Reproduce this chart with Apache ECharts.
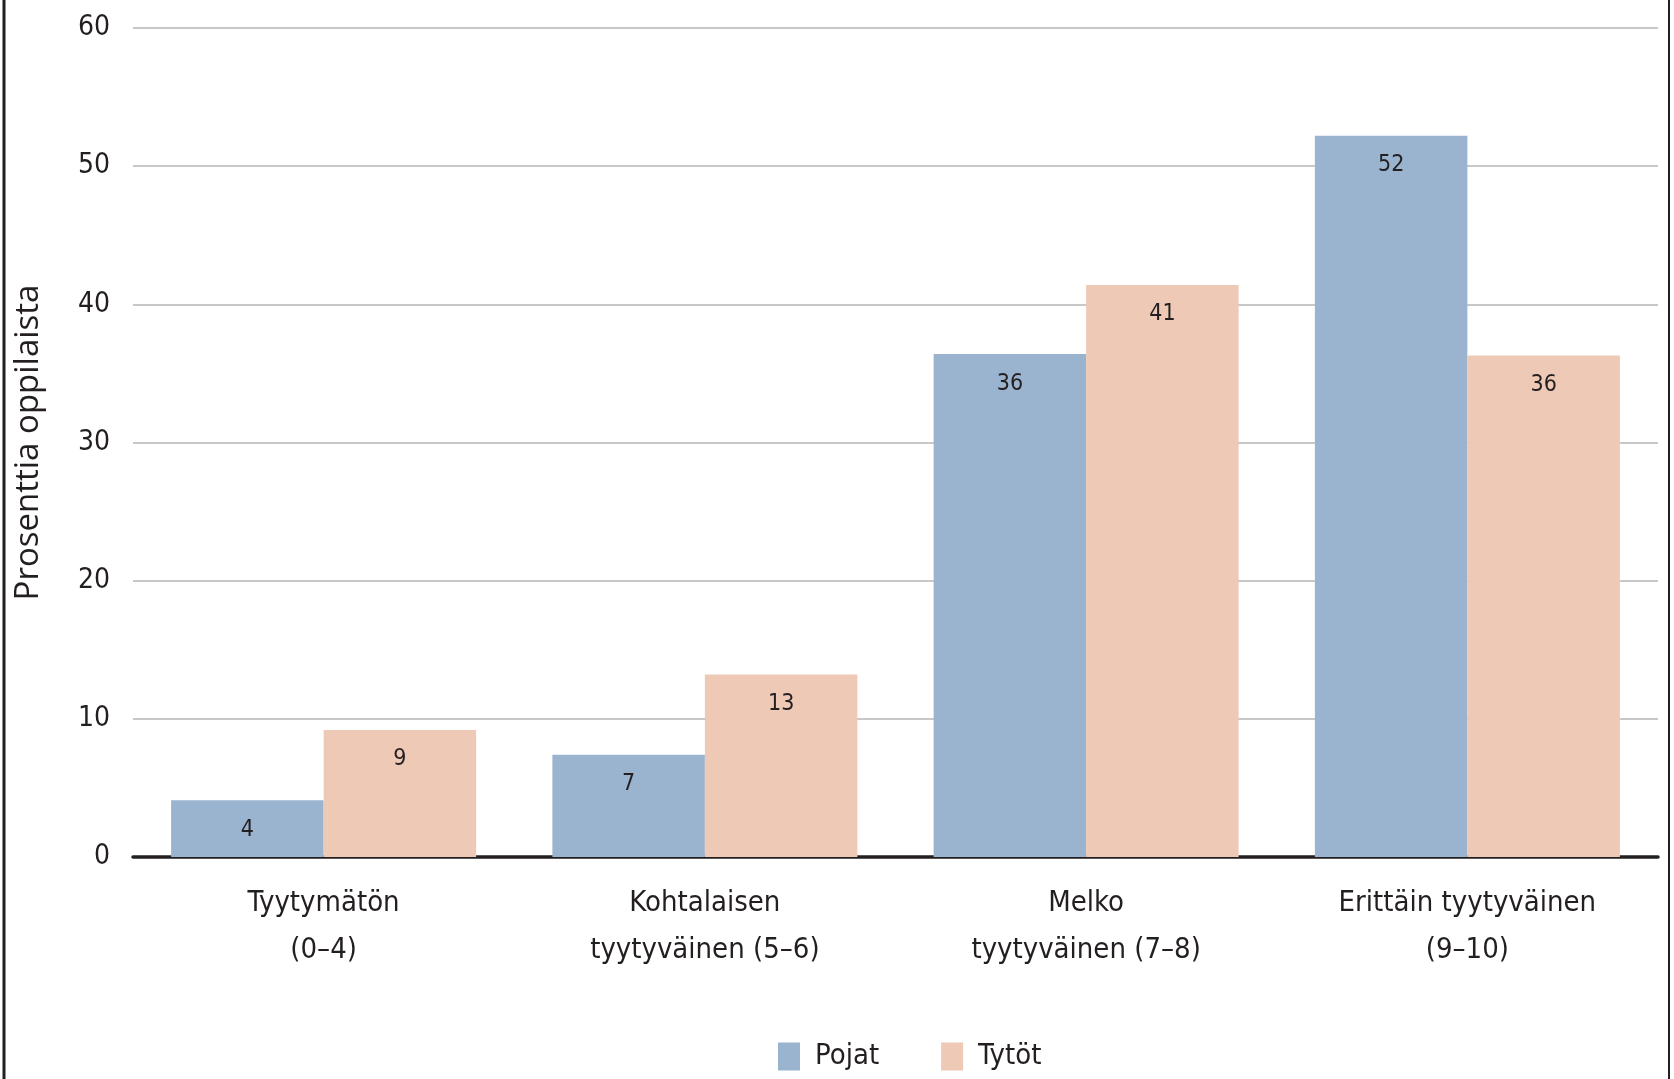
<!DOCTYPE html>
<html>
<head>
<meta charset="utf-8">
<script src="https://cdn.jsdelivr.net/npm/echarts@6/dist/echarts.min.js"></script>
<style>
html,body{margin:0;padding:0;background:#fff;}
#chart{width:1674px;height:1079px;}
</style>
</head>
<body>
<div id="chart"></div>
<script>
const categories = ['Tyytymätön\n(0–4)', 'Kohtalaisen\ntyytyväinen (5–6)', 'Melko\ntyytyväinen (7–8)', 'Erittäin tyytyväinen\n(9–10)'];
const seriesNames = ['Pojat', 'Tytöt'];
const pojat = [4.1, 7.4, 36.4, 52.2];
const tytot = [9.2, 13.2, 41.4, 36.3];
const yTicks = [0, 10, 20, 30, 40, 50, 60];
const yAxisName = 'Prosenttia oppilaista';

const narrow = "'Liberation Sans Narrow', 'Arial Narrow', 'DejaVu Sans Condensed', sans-serif";
const textColor = '#231F20';

const chart = echarts.init(document.getElementById('chart'));
const labelCfg = {
  show: true,
  position: 'insideTop',
  distance: 18,
  fontFamily: narrow,
  fontSize: 23,
  color: textColor,
  formatter: p => Math.round(p.value)
};
chart.setOption({
  animation: false,
  backgroundColor: '#fff',
  grid: { left: 133, right: 16, top: 28, bottom: 222, containLabel: false, outerBoundsMode: 'none' },
  legend: {
    data: seriesNames,
    bottom: 8,
    left: 778,
    padding: 0,
    itemWidth: 22,
    itemHeight: 28,
    itemGap: 62,
    icon: 'rect',
    textStyle: { fontFamily: narrow, fontSize: 29, color: textColor, padding: [0, 0, 0, 10] }
  },
  xAxis: {
    type: 'category',
    data: categories,
    axisTick: { show: false },
    axisLine: { show: true, lineStyle: { color: textColor, width: 3.5 } },
    axisLabel: { fontFamily: narrow, fontSize: 29, color: textColor, lineHeight: 47, margin: 23, interval: 0 }
  },
  yAxis: {
    type: 'value',
    min: yTicks[0],
    max: yTicks[yTicks.length - 1],
    interval: 10,
    name: yAxisName,
    nameLocation: 'middle',
    nameRotate: 90,
    nameGap: 88,
    nameTextStyle: { fontFamily: "'Open Sans', 'Noto Sans', sans-serif", fontSize: 33, color: textColor },
    axisLine: { show: false },
    axisTick: { show: false },
    axisLabel: { fontFamily: narrow, fontSize: 28, color: textColor, margin: 23 },
    splitLine: { lineStyle: { color: '#C8C8C8', width: 2 } }
  },
  series: [
    { name: seriesNames[0], type: 'bar', data: pojat, barGap: '0%', barCategoryGap: '20%',
      itemStyle: { color: '#9AB3CF' }, label: labelCfg },
    { name: seriesNames[1], type: 'bar', data: tytot, barGap: '0%', barCategoryGap: '20%',
      itemStyle: { color: '#EDC9B6' }, label: labelCfg }
  ],
  graphic: [
    { type: 'line', shape: { x1: 4, y1: 0, x2: 4, y2: 1079 }, style: { stroke: '#231F20', lineWidth: 3 } },
    { type: 'line', shape: { x1: 1669, y1: 0, x2: 1669, y2: 1079 }, style: { stroke: '#231F20', lineWidth: 2 } }
  ]
});
</script>
</body>
</html>
